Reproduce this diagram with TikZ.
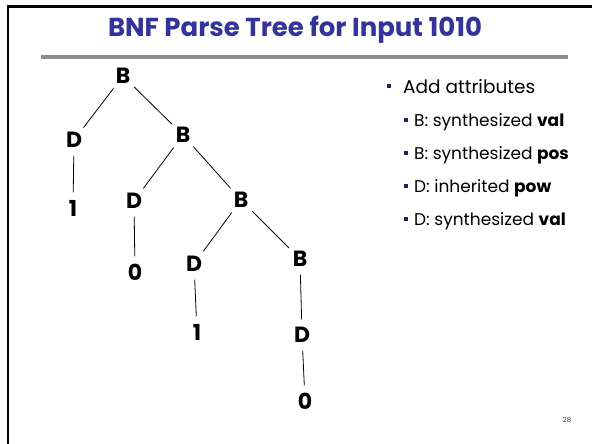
\documentclass[tikz,border=0pt]{standalone}
\usepackage{fontspec}
\setmainfont{Poppins}
\definecolor{titleblue}{RGB}{51,51,153}
\definecolor{rulegray}{RGB}{140,140,140}
\begin{document}
\begin{tikzpicture}[x=1pt,y=-1pt,
  tn/.style={circle,inner sep=0pt,minimum size=31pt,font=\fontsize{22}{24}\selectfont\bfseries},
  edge/.style={draw=black,line width=0.8pt},
  item/.style={anchor=base west,inner sep=0pt,font=\fontsize{17}{20}\selectfont},
  topitem/.style={anchor=base west,inner sep=0pt,font=\fontsize{18.5}{22}\selectfont},
  bul/.style={fill=titleblue!60!black,draw=none}
]
\useasboundingbox (0,0) rectangle (592,444);
\fill[white] (0,0) rectangle (592,444);
% frame
\draw[line width=2.6pt] (8,444) -- (8,6.5) -- (592,6.5);
% title
\node[font=\fontsize{26}{30}\selectfont\bfseries,text=titleblue,inner sep=0pt] (title) at (295,30) {BNF Parse Tree for Input 1010};
\draw[rulegray,line width=4pt] (41,57.5) -- (568,57.5);
% tree
\node[tn] (b1) at (123,76) {B};
\node[tn] (d1) at (74,140) {D};
\node[tn] (b2) at (183,135) {B};
\node[tn] (n1) at (73,208) {1};
\node[tn] (d2) at (134,201) {D};
\node[tn] (b3) at (241,200) {B};
\node[tn] (n2) at (135,272) {0};
\node[tn] (d3) at (194,264) {D};
\node[tn] (b4) at (300,259) {B};
\node[tn] (n3) at (197,332) {1};
\node[tn] (d4) at (302,335) {D};
\node[tn] (n4) at (305,401) {0};
\path[edge] (b1) -- (d1);
\path[edge] (b1) -- (b2);
\path[edge] (d1) -- (n1);
\path[edge] (b2) -- (d2);
\path[edge] (b2) -- (b3);
\path[edge] (d2) -- (n2);
\path[edge] (b3) -- (d3);
\path[edge] (b3) -- (b4);
\path[edge] (d3) -- (n3);
\path[edge] (b4) -- (d4);
\path[edge] (d4) -- (n4);
% list
\fill[bul] (387,84) rectangle (391,88);
\node[topitem] (l0) at (403,93) {Add attributes};
\fill[bul] (404,118) rectangle (407.5,121.5);
\node[item] (l1) at (414,126) {B: synthesized \textbf{val}};
\fill[bul] (404,151) rectangle (407.5,154.5);
\node[item] (l2) at (414,159) {B: synthesized \textbf{pos}};
\fill[bul] (404,184) rectangle (407.5,187.5);
\node[item] (l3) at (414,192) {D: inherited \textbf{pow}};
\fill[bul] (404,217) rectangle (407.5,220.5);
\node[item] (l4) at (414,225) {D:\ synthesized \textbf{val}};
% page number
\node[font=\fontsize{7}{8}\selectfont,text=black!80,inner sep=0pt] (pg) at (567,420) {28};
\end{tikzpicture}
\end{document}
